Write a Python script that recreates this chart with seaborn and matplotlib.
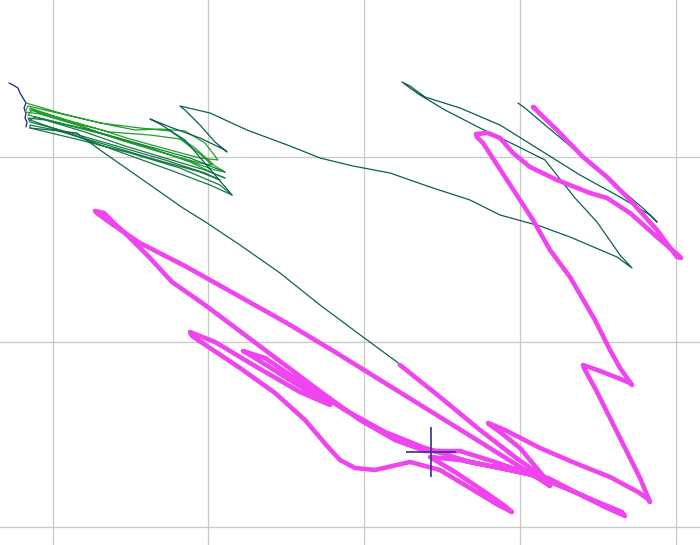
import matplotlib
matplotlib.use("Agg")
import matplotlib.pyplot as plt
import numpy as np
import pandas as pd
import seaborn as sns

# ---------------- data (trace coordinates in screen-like units) ----------------
grid_x = [53, 208, 364, 520, 676]
grid_y = [157, 342, 527]

blue_x = [9, 13, 18, 20, 23, 26, 24, 26, 25, 27, 26]
blue_y = [83, 85, 88, 93, 98, 103, 108, 113, 118, 122, 127]

green_x = [26, 60, 100, 140, 170, 195, 215, 225, 215, 180, 140, 100, 60, 30,
           30, 70, 110, 150, 180, 200, 212, 200, 160, 120, 80, 40, 25,
           28, 70, 110, 135, 160, 185, 205, 218, 200, 170, 130, 95, 60, 32,
           28, 70, 110, 150, 190, 215, 225]
green_y = [103, 113, 123, 128, 131, 148, 166, 172, 170, 158, 145, 133, 118, 108,
           110, 122, 132, 135, 139, 154, 165, 163, 152, 140, 126, 114, 112,
           106, 116, 125, 130, 129, 131, 143, 160, 158, 150, 139, 128, 118, 110,
           115, 126, 136, 148, 162, 174, 178]

dkgreen_x = [225, 205, 165, 125, 85, 45, 28, 30, 75, 120, 165, 205, 220, 200, 150, 100, 55, 30,
             30, 80, 130, 180, 220, 232, 210, 170, 120, 70, 30, 35, 90, 140, 190, 225]
dkgreen_y = [178, 170, 158, 146, 132, 120, 118, 122, 134, 147, 160, 173, 180, 172, 158, 143, 130, 125,
             128, 140, 153, 168, 185, 195, 185, 170, 152, 134, 120, 117, 130, 144, 158, 172]

teal1_x = [232, 215, 185, 160, 150, 170, 200, 225, 227, 215, 200, 185, 180, 210, 247, 290, 320,
           353, 390, 430, 470, 500, 540, 570, 617, 632, 620, 597, 575, 545, 515, 480, 445, 420,
           410, 402, 410, 425, 460, 500, 540, 580, 620, 650, 657, 645, 610, 575, 545, 525, 518]
teal1_y = [195, 175, 140, 124, 119, 127, 138, 150, 152, 142, 125, 110, 106, 113, 130, 146, 158,
           166, 173, 187, 200, 215, 226, 237, 257, 268, 255, 222, 198, 160, 145, 128, 110, 95,
           88, 82, 86, 97, 108, 125, 150, 175, 197, 215, 222, 210, 180, 150, 125, 108, 103]

teal2_x = [30, 50, 77, 100, 133, 183, 207, 240, 280, 320, 363, 397, 400]
teal2_y = [128, 130, 133, 150, 173, 208, 223, 245, 273, 305, 337, 362, 365]

mag_x = [400, 440, 480, 515, 540, 550, 525, 485, 435, 385, 335, 285, 235, 185, 140, 112, 98, 95,
         104, 116, 128, 150, 172, 205, 245, 285, 325, 360, 395, 425, 460, 495, 535, 570, 600, 622, 625,
         605, 575, 548, 500, 460, 430, 455, 485, 505, 512, 498, 470, 440, 410, 375, 355, 340, 328,
         305, 275, 240, 210, 192, 190, 215, 255, 300, 330, 290, 255, 245, 243, 265, 305, 345, 385, 425,
         470, 510, 545, 520, 500, 490, 488, 505, 540, 575, 610, 638, 648, 650, 640, 625, 610, 596, 584, 583,
         600, 618, 630, 632, 620, 610, 595, 570, 550, 533, 507, 483, 477, 476, 488, 500, 513, 530, 557,
         590, 607, 630, 657, 677, 681, 677, 657, 630, 607, 583, 557, 533, 535]
mag_y = [365, 397, 430, 457, 475, 486, 470, 445, 414, 383, 352, 322, 294, 266, 243, 224, 214, 211,
         213, 225, 236, 258, 282, 305, 335, 365, 395, 420, 440, 451, 451, 462, 476, 490, 503, 512, 516,
         507, 492, 478, 468, 460, 457, 472, 492, 506, 512, 505, 488, 470, 462, 470, 468, 460, 447,
         420, 393, 368, 348, 336, 332, 342, 366, 392, 405, 380, 358, 352, 351, 358, 385, 410, 432, 448,
         462, 470, 478, 448, 432, 425, 423, 430, 448, 463, 477, 492, 499, 502, 478, 448, 418, 390, 368, 365,
         371, 378, 383, 385, 368, 350, 320, 277, 250, 220, 180, 143, 137, 134, 133, 138, 153, 167, 180,
         193, 198, 213, 237, 254, 258, 257, 230, 200, 177, 157, 130, 107, 108]

cross_x = [431]
cross_y = [452]

# ---------------- figure ----------------
sns.set_style("whitegrid", {"grid.color": "#c8c8c8", "axes.edgecolor": "white"})
fig = plt.figure(figsize=(7, 5.45), dpi=100)
ax = fig.add_axes([0, 0, 1, 1])

thin = [
    ("blue", blue_x, blue_y, "#1a1a9a"),
    ("green", green_x, green_y, "#22a02a"),
    ("dkgreen", dkgreen_x, dkgreen_y, "#167a45"),
    ("teal1", teal1_x, teal1_y, "#0a5e58"),
    ("teal2", teal2_x, teal2_y, "#0a6650"),
]
frames = []
pal = {}
for name, xs, ys, col in thin:
    frames.append(pd.DataFrame({"x": xs, "y": ys, "stroke": name}))
    pal[name] = col
df_thin = pd.concat(frames, ignore_index=True)

sns.lineplot(data=df_thin, x="x", y="y", hue="stroke", palette=pal, units="stroke",
             estimator=None, sort=False, linewidth=0.9, legend=False, ax=ax)

df_mag = pd.DataFrame({"x": mag_x, "y": mag_y})
sns.lineplot(data=df_mag, x="x", y="y", estimator=None, sort=False, color="#ef44ef",
             linewidth=3.3, legend=False, ax=ax,
             solid_joinstyle="round", solid_capstyle="round")

ax.plot(cross_x, cross_y, marker="+", markersize=36, markeredgewidth=1.2,
        color="#3b2f8f", linestyle="none", zorder=5)

ax.set_xlim(0, 700)
ax.set_ylim(545, 0)
ax.set_xticks(grid_x)
ax.set_yticks(grid_y)
ax.set_xticklabels([])
ax.set_yticklabels([])
ax.tick_params(length=0)
ax.grid(True, color="#c8c8c8", linewidth=0.9)
ax.set_xlabel("")
ax.set_ylabel("")
for s in ax.spines.values():
    s.set_visible(False)

fig.savefig("out.png", dpi=100, facecolor="white")
